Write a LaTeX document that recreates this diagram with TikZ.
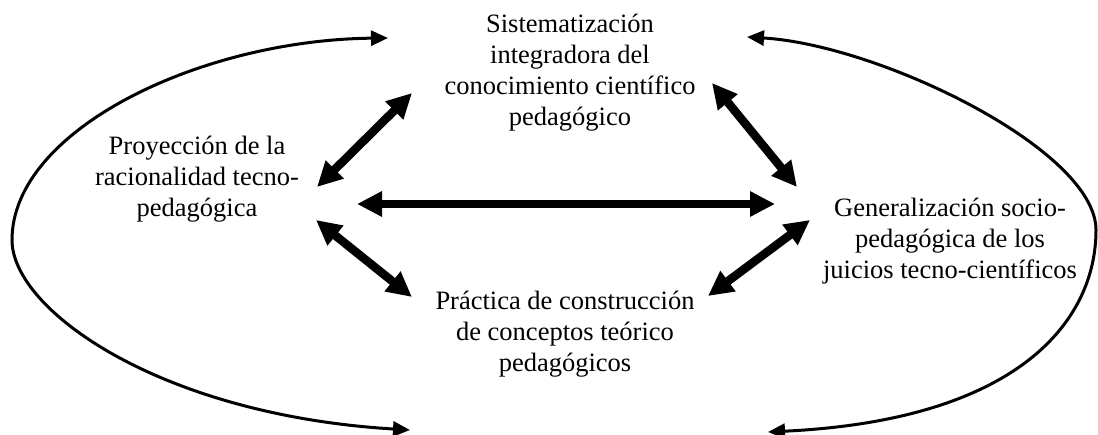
\documentclass[tikz,border=0pt]{standalone}
\usepackage{fontspec}
\setmainfont{Liberation Serif}
\usetikzlibrary{arrows.meta}
\tikzset{
  concepto/.style={align=center, inner sep=0pt, font=\fontsize{26.5}{31}\selectfont},
  dobleflecha/.style={{Triangle[length=25pt,width=24pt]}-{Triangle[length=25pt,width=24pt]}, line width=8.5pt},
  ciclo/.style={{Triangle[length=17pt,width=15pt]}-{Triangle[length=17pt,width=15pt]}, line width=3pt},
}
\begin{document}
\begin{tikzpicture}[x=1pt,y=-1pt]
        \useasboundingbox (0,0) rectangle (1098,435);
        % the four concepts
        \node [concepto] (sistematizacion) at (570,73) {Sistematización\\integradora del\\conocimiento científico\\pedagógico};
        \node [concepto] (proyeccion) at (197,179) {Proyección de la\\racionalidad tecno-\\pedagógica};
        \node [concepto] (generalizacion) at (950,241) {Generalización socio-\\pedagógica de los\\juicios tecno-científicos};
        \node [concepto] (practica) at (565,334) {Práctica de construcción\\de conceptos teórico\\pedagógicos};
        % ends of the thick arrows
        \coordinate (p-s) at (317,187); \coordinate (s-p) at (412,93);
        \coordinate (s-g) at (712,83);  \coordinate (g-s) at (797,187);
        \coordinate (p-g) at (357,204); \coordinate (g-p) at (775,204);
        \coordinate (p-c) at (316,220); \coordinate (c-p) at (412,297);
        \coordinate (g-c) at (810,220); \coordinate (c-g) at (708,296);
        \draw [dobleflecha] (p-s) -- (s-p);
        \draw [dobleflecha] (s-g) -- (g-s);
        \draw [dobleflecha] (p-g) -- (g-p);
        \draw [dobleflecha] (p-c) -- (c-p);
        \draw [dobleflecha] (g-c) -- (c-g);
        % the two outer loops
        \coordinate (izq-arriba) at (388,38); \coordinate (izq-abajo) at (410,430);
        \coordinate (der-arriba) at (747,37); \coordinate (der-abajo) at (768,432);
        \draw [ciclo] (izq-arriba) .. controls (200,40) and (12,130) .. (12,240) .. controls (12,310) and (160,415) .. (izq-abajo);
        \draw [ciclo] (der-arriba) .. controls (880,45) and (1096,150) .. (1096,230) .. controls (1096,320) and (1020,420) .. (der-abajo);
    \end{tikzpicture}
\end{document}
